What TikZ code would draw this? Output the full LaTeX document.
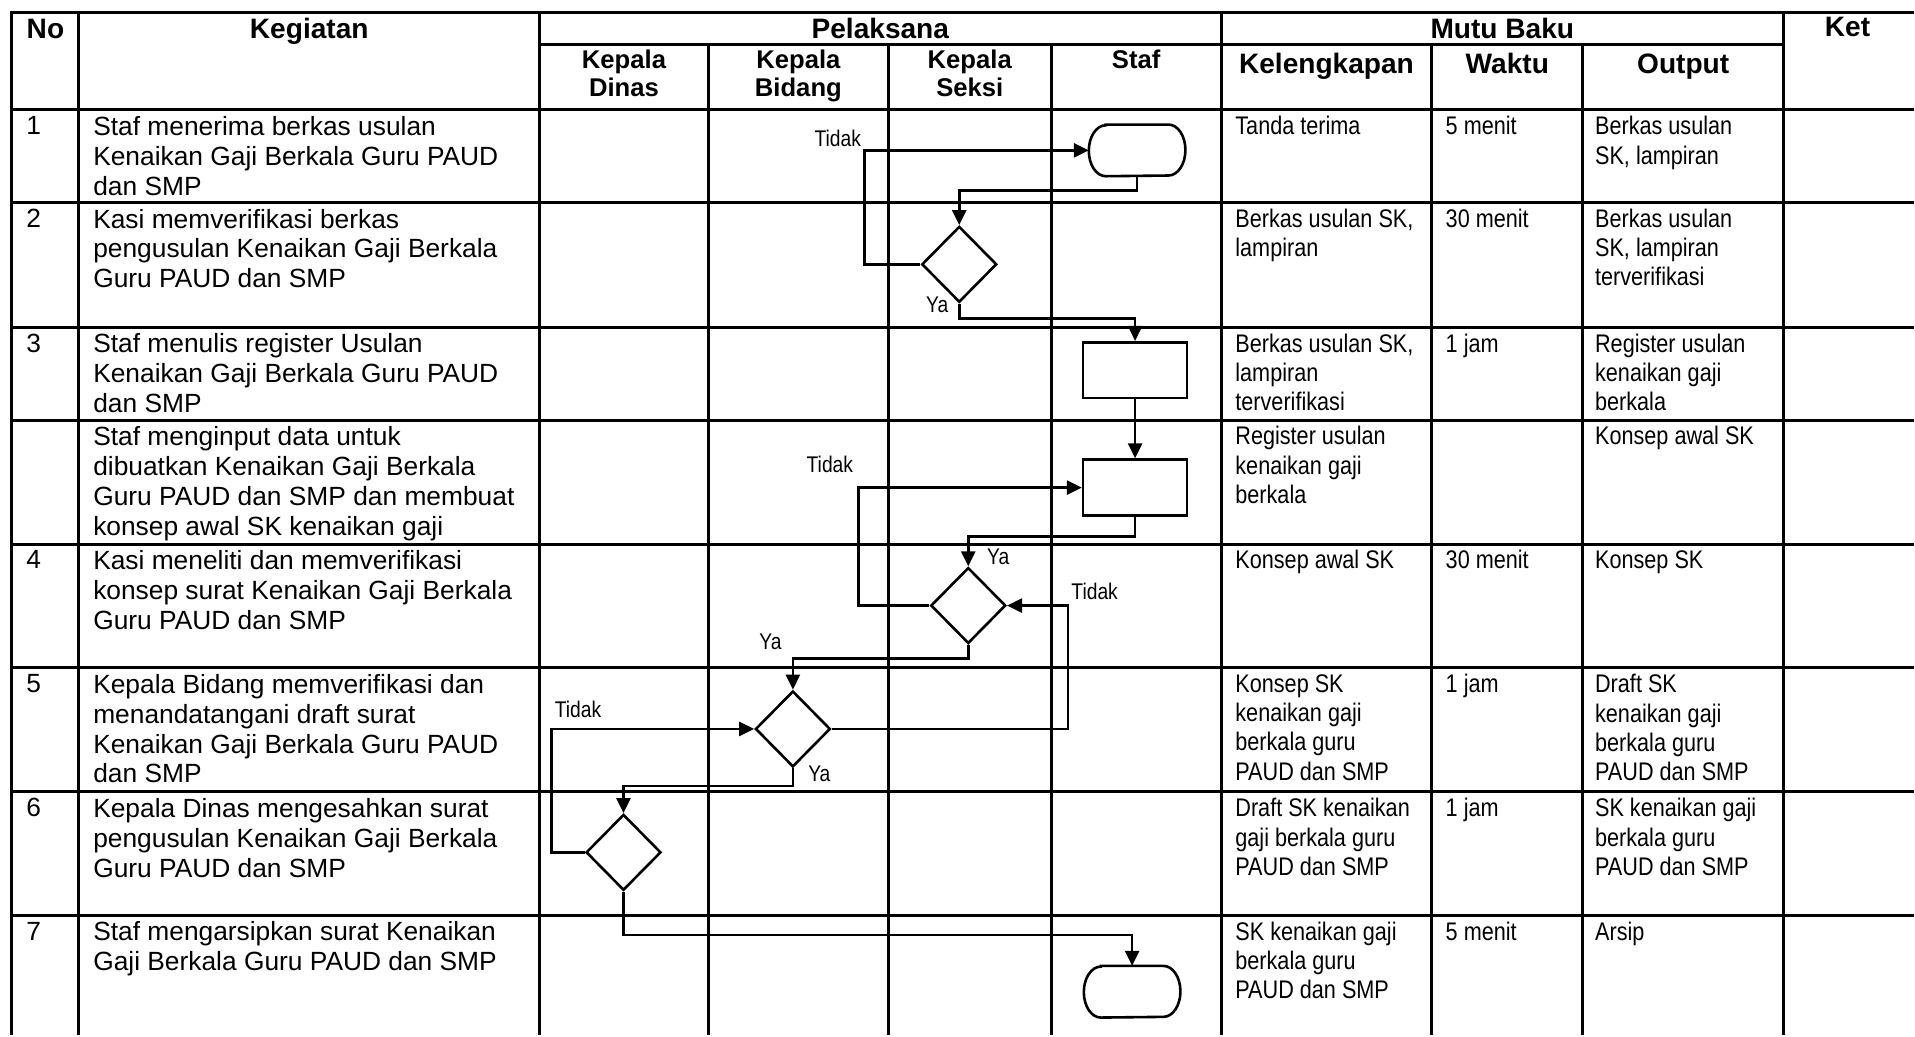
\documentclass[tikz,border=0pt]{standalone}
\usepackage{fontspec}
\setmainfont{Liberation Sans}
\newfontfamily\narrowfont[FakeStretch=0.85]{Liberation Sans}
\usetikzlibrary{positioning, arrows.meta, shapes.geometric}
\tikzset{
  gridline/.style = {line width=0.06cm},
  flowline/.style = {line width=0.052cm},
  fwd/.style      = {-{Triangle[length=0.3cm, width=0.28cm]}, line width=0.052cm},
  headtxt/.style  = {font=\fontsize{16}{18}\selectfont\bfseries, anchor=base, inner sep=0pt},
  subtxt/.style   = {font=\fontsize{14.6}{16}\selectfont\bfseries, anchor=north, align=center, inner sep=0pt},
  acttxt/.style   = {font=\fontsize{15}{16.95}\selectfont, anchor=north west, align=left, inner sep=0pt},
  mututxt/.style  = {font=\narrowfont\fontsize{14.5}{16.7}\selectfont, anchor=north west, align=left, inner sep=0pt},
  labeltxt/.style = {font=\narrowfont\fontsize{12.9}{14}\selectfont, inner sep=0pt},
  decision/.style = {diamond, draw, line width=0.052cm, minimum width=1.5cm, minimum height=1.52cm, inner sep=0pt},
  process/.style  = {draw, line width=0.052cm, minimum width=2.08cm, minimum height=1.12cm, inner sep=0pt},
  terminal/.style = {minimum width=1.92cm, minimum height=1.02cm, inner sep=0pt}
}
% start/end box with flat elliptic ends
\newcommand{\terminalrim}[1]{%
  \draw[flowline] ([xshift=0.34cm]#1.north west) -- ([xshift=-0.34cm]#1.north east)
    arc[start angle=90, end angle=-90, x radius=0.34cm, y radius=0.51cm]
    -- ([xshift=0.34cm]#1.south west)
    arc[start angle=270, end angle=90, x radius=0.34cm, y radius=0.51cm] -- cycle;}

\begin{document}
\begin{tikzpicture}[x=1cm, y=1cm]

    \fill[white] (0,0) rectangle (38.3,-20.72);

    % --- Table rules ----------------------------------------------------------
    \draw[gridline] (0.24,-20.72) -- (0.24,-0.25) -- (38.3,-0.25);
    \draw[gridline] (10.8,-0.9)   -- (35.7,-0.9);
    \draw[gridline] (0.24,-2.2)   -- (38.3,-2.2);
    \draw[gridline] (0.24,-4.05)  -- (38.3,-4.05);
    \draw[gridline] (0.24,-6.55)  -- (38.3,-6.55);
    \draw[gridline] (0.24,-8.41)  -- (38.3,-8.41);
    \draw[gridline] (0.24,-10.89) -- (38.3,-10.89);
    \draw[gridline] (0.24,-13.37) -- (38.3,-13.37);
    \draw[gridline] (0.24,-15.85) -- (38.3,-15.85);
    \draw[gridline] (0.24,-18.32) -- (38.3,-18.32);

    \draw[gridline] (1.58,-0.25)  -- (1.58,-20.72);
    \draw[gridline] (10.8,-0.25)  -- (10.8,-20.72);
    \draw[gridline] (14.18,-0.9)  -- (14.18,-20.72);
    \draw[gridline] (17.78,-0.9)  -- (17.78,-20.72);
    \draw[gridline] (21.04,-0.9)  -- (21.04,-20.72);
    \draw[gridline] (24.44,-0.25) -- (24.44,-20.72);
    \draw[gridline] (28.66,-0.9)  -- (28.66,-20.72);
    \draw[gridline] (31.68,-0.9)  -- (31.68,-20.72);
    \draw[gridline] (35.7,-0.25)  -- (35.7,-20.72);

    % --- Header -----------------------------------------------------------------
    \node[headtxt] (hNo)    at (0.91,-0.78)  {No};
    \node[headtxt] (hKeg)   at (6.19,-0.78)  {Kegiatan};
    \node[headtxt] (hPel)   at (17.62,-0.78) {Pelaksana};
    \node[headtxt] (hMutu)  at (30.07,-0.78) {Mutu Baku};
    \node[headtxt] (hKet)   at (36.98,-0.74) {Ket};

    \node[subtxt]  (hDinas)  at (12.49,-0.99) {Kepala\\Dinas};
    \node[subtxt]  (hBidang) at (15.98,-0.99) {Kepala\\Bidang};
    \node[subtxt]  (hSeksi)  at (19.41,-0.99) {Kepala\\Seksi};
    \node[subtxt]  (hStaf)   at (22.74,-0.99) {Staf};
    \node[headtxt] (hLengkap) at (26.55,-1.48) {Kelengkapan};
    \node[headtxt] (hWaktu)  at (30.17,-1.48) {Waktu};
    \node[headtxt] (hOutput) at (33.69,-1.48) {Output};

    % --- No and Kegiatan --------------------------------------------------------
    \node[acttxt] (n1) at (0.52,-2.325)  {1};
    \node[acttxt] (n2) at (0.52,-4.175)  {2};
    \node[acttxt] (n3) at (0.52,-6.675)  {3};
    \node[acttxt] (n5) at (0.52,-11.015) {4};
    \node[acttxt] (n6) at (0.52,-13.495) {5};
    \node[acttxt] (n7) at (0.52,-15.975) {6};
    \node[acttxt] (n8) at (0.52,-18.445) {7};

    \node[acttxt] (a1) at (1.86,-2.325)
      {Staf menerima berkas usulan\\Kenaikan Gaji Berkala Guru PAUD\\dan SMP};
    \node[acttxt] (a2) at (1.86,-4.175)
      {Kasi memverifikasi berkas\\pengusulan Kenaikan Gaji Berkala\\Guru PAUD dan SMP};
    \node[acttxt] (a3) at (1.86,-6.675)
      {Staf menulis register Usulan\\Kenaikan Gaji Berkala Guru PAUD\\dan SMP};
    \node[acttxt] (a4) at (1.86,-8.535)
      {Staf menginput data untuk\\dibuatkan Kenaikan Gaji Berkala\\Guru PAUD dan SMP dan membuat\\konsep awal SK kenaikan gaji};
    \node[acttxt] (a5) at (1.86,-11.015)
      {Kasi meneliti dan memverifikasi\\konsep surat Kenaikan Gaji Berkala\\Guru PAUD dan SMP};
    \node[acttxt] (a6) at (1.86,-13.495)
      {Kepala Bidang memverifikasi dan\\menandatangani draft surat\\Kenaikan Gaji Berkala Guru PAUD\\dan SMP};
    \node[acttxt] (a7) at (1.86,-15.975)
      {Kepala Dinas mengesahkan surat\\pengusulan Kenaikan Gaji Berkala\\Guru PAUD dan SMP};
    \node[acttxt] (a8) at (1.86,-18.445)
      {Staf mengarsipkan surat Kenaikan\\Gaji Berkala Guru PAUD dan SMP};

    % --- Mutu Baku ---------------------------------------------------------------
    \node[mututxt] (k1) at (24.72,-2.32)  {Tanda terima};
    \node[mututxt] (k2) at (24.72,-4.17)  {Berkas usulan SK,\\lampiran};
    \node[mututxt] (k3) at (24.72,-6.67)  {Berkas usulan SK,\\lampiran\\terverifikasi};
    \node[mututxt] (k4) at (24.72,-8.53)  {Register usulan\\kenaikan gaji\\berkala};
    \node[mututxt] (k5) at (24.72,-11.01) {Konsep awal SK};
    \node[mututxt] (k6) at (24.72,-13.49) {Konsep SK\\kenaikan gaji\\berkala guru\\PAUD dan SMP};
    \node[mututxt] (k7) at (24.72,-15.97) {Draft SK kenaikan\\gaji berkala guru\\PAUD dan SMP};
    \node[mututxt] (k8) at (24.72,-18.44) {SK kenaikan gaji\\berkala guru\\PAUD dan SMP};

    \node[mututxt] (w1) at (28.93,-2.32)  {5 menit};
    \node[mututxt] (w2) at (28.93,-4.17)  {30 menit};
    \node[mututxt] (w3) at (28.93,-6.67)  {1 jam};
    \node[mututxt] (w5) at (28.93,-11.01) {30 menit};
    \node[mututxt] (w6) at (28.93,-13.49) {1 jam};
    \node[mututxt] (w7) at (28.93,-15.97) {1 jam};
    \node[mututxt] (w8) at (28.93,-18.44) {5 menit};

    \node[mututxt] (o1) at (31.92,-2.32)  {Berkas usulan\\SK, lampiran};
    \node[mututxt] (o2) at (31.92,-4.17)  {Berkas usulan\\SK, lampiran\\terverifikasi};
    \node[mututxt] (o3) at (31.92,-6.67)  {Register usulan\\kenaikan gaji\\berkala};
    \node[mututxt] (o4) at (31.92,-8.53)  {Konsep awal SK};
    \node[mututxt] (o5) at (31.92,-11.01) {Konsep SK};
    \node[mututxt] (o6) at (31.92,-13.49) {Draft SK\\kenaikan gaji\\berkala guru\\PAUD dan SMP};
    \node[mututxt] (o7) at (31.92,-15.97) {SK kenaikan gaji\\berkala guru\\PAUD dan SMP};
    \node[mututxt] (o8) at (31.92,-18.44) {Arsip};

    % --- Flow symbols ------------------------------------------------------------
    \node[terminal] (t1) at (22.76,-3.01)  {};
    \node[decision] (d1) at (19.2,-5.29)   {};
    \node[process]  (b1) at (22.72,-7.41)  {};
    \node[process]  (b2) at (22.72,-9.76)  {};
    \node[decision] (d2) at (19.38,-12.12) {};
    \node[decision] (d3) at (15.87,-14.59) {};
    \node[decision] (d4) at (12.48,-17.06) {};
    \node[terminal] (t2) at (22.66,-19.85) {};
    \terminalrim{t1}
    \terminalrim{t2}

    % --- Connectors --------------------------------------------------------------
    \draw[fwd] (d1.west)  -- ++(-1.12,0) |- (t1.west);
    \draw[fwd] (t1.south) -- ++(0,-0.28) -| (d1.north);
    \draw[fwd] (d1.south) -- ++(0,-0.3)  -| (b1.north);
    \draw[fwd] (b1.south) -- (b2.north);
    \draw[fwd] (b2.south) -- ++(0,-0.39) -| (d2.north);
    \draw[fwd] (d2.west)  -- ++(-1.42,0) |- (b2.west);
    \draw[fwd] (d2.south) -- ++(0,-0.27) -| (d3.north);
    \draw[fwd] (d3.east)  -- ++(4.73,0)  |- (d2.east);
    \draw[fwd] (d3.south) -- ++(0,-0.36) -| (d4.north);
    \draw[fwd] (d4.west)  -- ++(-0.66,0) |- (d3.west);
    \draw[fwd] (d4.south) -- ++(0,-0.87) -| (t2.north);

    % --- Branch labels -----------------------------------------------------------
    \node[labeltxt] (no1)  at (16.77,-2.77)  {Tidak};
    \node[labeltxt] (yes1) at (18.76,-6.1)   {Ya};
    \node[labeltxt] (no2)  at (16.61,-9.3)   {Tidak};
    \node[labeltxt] (yes2) at (19.98,-11.15) {Ya};
    \node[labeltxt] (no3)  at (21.91,-11.84) {Tidak};
    \node[labeltxt] (yes3) at (15.42,-12.85) {Ya};
    \node[labeltxt] (yes4) at (16.4,-15.48)  {Ya};
    \node[labeltxt] (no4)  at (11.57,-14.2)  {Tidak};

\end{tikzpicture}
\end{document}
